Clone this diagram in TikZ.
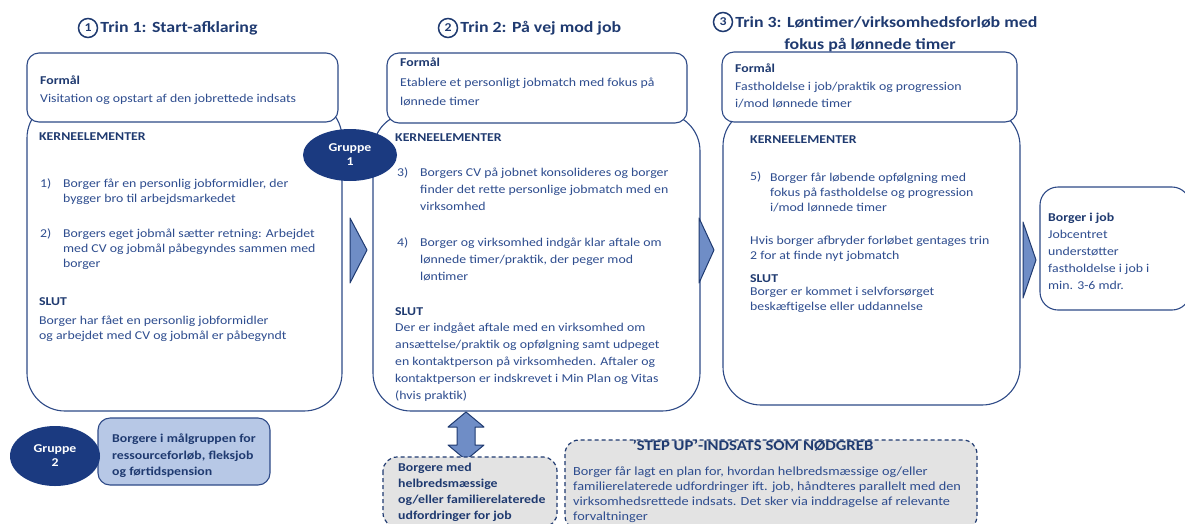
\documentclass[tikz,border=0pt]{standalone}
\usepackage{fontspec}
\setmainfont{Carlito}[FakeStretch=1.15]
\usetikzlibrary{positioning,shapes.geometric}
\definecolor{titleblue}{HTML}{1F3A70}
\definecolor{bodyblue}{HTML}{2E4D8F}
\definecolor{boxblue}{HTML}{2E4A87}
\definecolor{navyfill}{HTML}{1B3A80}
\definecolor{chevfill}{HTML}{6F8DC6}
\definecolor{lightfill}{HTML}{B7C8E6}
\definecolor{greyfill}{HTML}{E3E3E3}

\begin{document}
\begin{tikzpicture}[x=1pt, y=-1pt,
    box/.style={draw=boxblue, line width=1.1pt, fill=white},
    chev/.style={draw=titleblue, line width=1pt, fill=chevfill, line join=round},
    dashbox/.style={draw=titleblue, line width=1.2pt, fill=greyfill, dash pattern=on 4pt off 3pt, rounded corners=14},
    body/.style={anchor=north west, inner sep=0pt, align=left, text=bodyblue,
        font=\fontsize{12}{15}\selectfont, execute at begin node=\strut},
    wide/.style={body, font=\fontsize{12}{17}\selectfont},
    head/.style={body, text=titleblue, font=\bfseries\fontsize{12}{15}\selectfont},
    title/.style={inner sep=0pt, text=titleblue, font=\bfseries\fontsize{15.5}{18}\selectfont},
    circnum/.style={circle, draw=titleblue, line width=1.5pt, inner sep=0pt, minimum size=19pt,
        text=titleblue, font=\bfseries\fontsize{12}{12}\selectfont},
    gruppe/.style={ellipse, fill=navyfill, inner sep=0pt, align=center, text=white,
        font=\bfseries\fontsize{12}{14}\selectfont}]
\useasboundingbox (0,0) rectangle (1185,523);

    % titles
    \node[circnum] (c1) at (88,28) {1};
    \node[title, right=2pt of c1] (t1) {Trin 1: Start-afklaring};
    \node[circnum] (c2) at (448,28) {2};
    \node[title, right=2pt of c2] (t2) {Trin 2: På vej mod job};
    \node[circnum] (c3) at (723,22) {3};
    \node[title, right=2pt of c3] (t3) {Trin 3: Løntimer/virksomhedsforløb med};
    \node[title] (t3b) at (870,45) {fokus på lønnede timer};

    % kerne boxes first, formaal boxes on top
    \draw[box, rounded corners=38] (27,100) rectangle (342,411);
    \draw[box, rounded corners=38] (373,113) rectangle (700,411);
    \draw[box, rounded corners=38] (723,108) rectangle (1020,405);
        \draw[box, rounded corners=12] (27,53) rectangle (338,122);
        \draw[box, rounded corners=12] (387,53) rectangle (687,123);
        \draw[box, rounded corners=12] (722,52) rectangle (1017,122);
    \draw[box, rounded corners=18] (1040,187) rectangle (1190,310);

    % chevrons
    \draw[chev] (350,218) -- (367,250) -- (350,283) -- cycle;
    \draw[chev] (699,218) -- (714,250) -- (699,283) -- cycle;
    \draw[chev] (1023,222) -- (1036,260) -- (1023,298) -- cycle;

    % trin 1
    \node[body, font=\fontsize{12}{18}\selectfont] (f1) at (40,76)
        {\textcolor{titleblue}{\textbf{Formål}}\\Visitation og opstart af den jobrettede indsats};
    \node[head] (k1h) at (39,130) {KERNEELEMENTER};
    \node[body] (k1n1) at (40,177) {1)};
    \node[body] (k1a) at (63,179) {Borger får en personlig jobformidler, der\\bygger bro til arbejdsmarkedet};
    \node[body] (k1n2) at (40,227) {2)};
    \node[body] (k1b) at (63,229) {Borgers eget jobmål sætter retning: Arbejdet\\med CV og jobmål påbegyndes sammen med\\borger};
    \node[head] (k1s) at (39,295) {SLUT};
    \node[body] (k1t) at (39,316) {Borger har fået en personlig jobformidler\\og arbejdet med CV og jobmål er påbegyndt};

    % trin 2
    \node[body, font=\fontsize{12}{19.5}\selectfont] (f2) at (400,58)
        {\textcolor{titleblue}{\textbf{Formål}}\\Etablere et personligt jobmatch med fokus på\\lønnede timer};
    \node[head] (k2h) at (395,131) {KERNEELEMENTER};
    \node[wide] (k2n3) at (397,164) {3)};
    \node[wide] (k2a) at (420,168) {Borgers CV på jobnet konsolideres og borger\\finder det rette personlige jobmatch med en\\virksomhed};
    \node[wide] (k2n4) at (397,234) {4)};
    \node[wide] (k2b) at (420,238) {Borger og virksomhed indgår klar aftale om\\lønnede timer/praktik, der peger mod\\løntimer};
    \node[head] (k2s) at (395,305) {SLUT};
    \node[wide] (k2t) at (395,323) {Der er indgået aftale med en virksomhed om\\ansættelse/praktik og opfølgning samt udpeget\\en kontaktperson på virksomheden. Aftaler og\\kontaktperson er indskrevet i Min Plan og Vitas\\(hvis praktik)};

    % trin 3
    \node[body, font=\fontsize{12}{17.5}\selectfont] (f3) at (735,64)
        {\textcolor{titleblue}{\textbf{Formål}}\\Fastholdelse i job/praktik og progression\\i/mod lønnede timer};
    \node[head] (k3h) at (750,133) {KERNEELEMENTER};
    \node[body] (k3n5) at (750,170) {5)};
    \node[body] (k3a) at (770,173) {Borger får løbende opfølgning med\\fokus på fastholdelse og progression\\i/mod lønnede timer};
    \node[body] (k3b) at (750,236) {Hvis borger afbryder forløbet gentages trin\\2 for at finde nyt jobmatch};
    \node[head] (k3s) at (750,272) {SLUT};
    \node[body] (k3t) at (750,287) {Borger er kommet i selvforsørget\\beskæftigelse eller uddannelse};

    % borger i job
    \node[wide] (job) at (1048,213) {\textcolor{titleblue}{\textbf{Borger i job}}\\Jobcentret\\understøtter\\fastholdelse i job i\\min. 3-6 mdr.};

    % grupper
    \node[gruppe, minimum width=94pt, minimum height=52pt] (g1) at (350,155) {Gruppe\\1};
    \draw[box, fill=lightfill, rounded corners=12] (98,418) rectangle (270,485);
    \node[gruppe, minimum width=90pt, minimum height=60pt] (g2) at (55,456) {Gruppe\\2};
    \node[head, font=\bfseries\fontsize{12}{16.5}\selectfont] (g2t) at (112,434)
        {Borgere i målgruppen for\\ressourceforløb, fleksjob\\og førtidspension};

    % double arrow and step up
    \draw[chev] (466,412) -- (484,427) -- (475,427) -- (475,445) -- (484,445) -- (466,460)
        -- (448,445) -- (457,445) -- (457,427) -- (448,427) -- cycle;
    \draw[dashbox] (383,457) rectangle (557,527);
    \node[head, font=\bfseries\fontsize{12}{16}\selectfont] (hb) at (398,463)
        {Borgere med\\helbredsmæssige\\og/eller familierelaterede\\udfordringer for job};
    \draw[dashbox] (565,440) rectangle (977,530);
    \node[text=titleblue, inner sep=0pt, font=\bfseries\fontsize{14.5}{15}\selectfont] (su) at (753,446)
        {'STEP UP'-INDSATS SOM NØDGREB};
    \node[body, font=\fontsize{12.4}{15}\selectfont] (sut) at (573,467) {Borger får lagt en plan for, hvordan helbredsmæssige og/eller\\familierelaterede udfordringer ift. job, håndteres parallelt med den\\virksomhedsrettede indsats. Det sker via inddragelse af relevante\\forvaltninger};
\end{tikzpicture}
\end{document}
